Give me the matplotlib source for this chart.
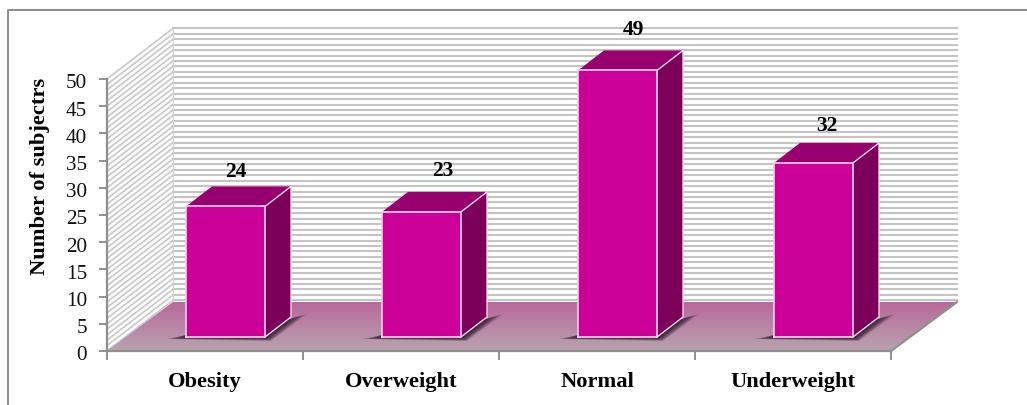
import numpy as np
import matplotlib
matplotlib.use("Agg")
import matplotlib.pyplot as plt
from matplotlib.patches import Polygon
from matplotlib.colors import LinearSegmentedColormap

categories = ["Obesity", "Overweight", "Normal", "Underweight"]
values = [24, 23, 49, 32]
y_ticks = [0, 5, 10, 15, 20, 25, 30, 35, 40, 45, 50]

# chart geometry, x in category widths and y in value units
X_UNIT = 196.0
Y_UNIT = 5.44
DEPTH_X = 66 / X_UNIT
DEPTH_Y = 49 / Y_UNIT
BAR_W = 0.403
BAR_LIFT = 14 / Y_UNIT
BAR_SHIFT = 20.5 / X_UNIT
SIDE_X = 26 / X_UNIT
SIDE_Y = 20 / Y_UNIT

# nudges for the value labels, in pixels from the top back edge of each bar
LABEL_DX = [10, 21, 16, 13]
LABEL_DY = [14, 21, 20, 17]

plt.rcParams["font.family"] = ["Liberation Serif", "DejaVu Serif"]

W, H = 1027, 405
fig = plt.figure(figsize=(W / 100, H / 100), dpi=100)
ax = fig.add_axes([0, 0, 1, 1])
ax.set_xlim(-107 / X_UNIT, (W - 107) / X_UNIT)
ax.set_ylim((351 - H) / Y_UNIT, 351 / Y_UNIT)
ax.axis("off")

n = len(categories)

# outer frame: top and left only
ax.plot([-99 / X_UNIT, -99 / X_UNIT, (W - 107) / X_UNIT],
        [(351 - H) / Y_UNIT, 341 / Y_UNIT, 341 / Y_UNIT],
        color="#8c8c8c", lw=1.4, zorder=1)

# walls
for v in range(0, 51):
    ax.plot([0, DEPTH_X], [v, v + DEPTH_Y + 0.3], color="#c8c8c8", lw=1.2, zorder=2)
    ax.plot([DEPTH_X, n + DEPTH_X], [v + DEPTH_Y + 0.3, v + DEPTH_Y + 0.3],
            color="#c4c4c4", lw=1.5, zorder=2)
ax.plot([DEPTH_X, DEPTH_X], [DEPTH_Y, 50.3 + DEPTH_Y], color="#d4d4d4", lw=0.8, zorder=2)

# floor with vertical gradient
floor_cmap = LinearSegmentedColormap.from_list("floor", ["#b8a2b0", "#b9689a"])
floor = Polygon([(0, 0), (n, 0), (n + DEPTH_X, DEPTH_Y), (DEPTH_X, DEPTH_Y)],
                closed=True, fc="none", ec="none", transform=ax.transData)
ax.add_patch(floor)
im = ax.imshow(np.linspace(0, 1, 64).reshape(-1, 1), cmap=floor_cmap, aspect="auto",
               extent=(0, n + DEPTH_X, 0, DEPTH_Y), origin="lower", zorder=3)
im.set_clip_path(floor)
ax.set_xlim(-107 / X_UNIT, (W - 107) / X_UNIT)
ax.set_ylim((351 - H) / Y_UNIT, 351 / Y_UNIT)

# front and right floor edges
ax.plot([0, n, n + DEPTH_X], [0, 0, DEPTH_Y], color="#8f8f8f", lw=1.6, zorder=4)
ax.plot([0, 0], [0, 50], color="#8f8f8f", lw=1.6, zorder=4)

# axis ticks
for v in y_ticks:
    ax.plot([-7 / X_UNIT, 0], [v, v], color="#8f8f8f", lw=1.4, zorder=4)
    ax.text(-20 / X_UNIT, v - 5 / Y_UNIT, str(v), ha="right", va="center", fontsize=15.2,
            color="#111111", zorder=6)
for i in range(n + 1):
    ax.plot([i, i], [0, -8 / Y_UNIT], color="#8f8f8f", lw=1.4, zorder=4)

for i, (name, val) in enumerate(zip(categories, values)):
    left = i + 0.5 + BAR_SHIFT - BAR_W / 2
    right = left + BAR_W
    base = BAR_LIFT
    top = base + val

    # soft shadow on the floor
    for k in range(10):
        g = k / 9
        ax.add_patch(Polygon(
            [(left - (20 - 17 * g) / X_UNIT, base - (2 - g) / Y_UNIT),
             (right + (6 - 4 * g) / X_UNIT, base - (4 - 3 * g) / Y_UNIT),
             (right + SIDE_X + (16 - 14 * g) / X_UNIT, base + SIDE_Y + (3 - 3 * g) / Y_UNIT),
             (right + SIDE_X, base + SIDE_Y - 2 / Y_UNIT),
             (left, base + 2 / Y_UNIT)],
            closed=True, fc="#1e1420", ec="none", alpha=0.14, zorder=4.5))

    # bar faces
    ax.add_patch(Polygon([(left, top), (right, top), (right + SIDE_X, top + SIDE_Y), (left + SIDE_X, top + SIDE_Y)],
                         closed=True, fc="#99006f", ec="none", zorder=5))
    ax.add_patch(Polygon([(right, base), (right + SIDE_X, base + SIDE_Y), (right + SIDE_X, top + SIDE_Y), (right, top)],
                         closed=True, fc="#7c005a", ec="none", zorder=5))
    ax.add_patch(Polygon([(left, base), (right, base), (right, top), (left, top)],
                         closed=True, fc="#cc0099", ec="none", zorder=5))

    # pale highlight along the visible edges
    edge = "#f0d4e8"
    ax.plot([left, left, right, right, left], [base, top, top, base, base], color=edge, lw=1.2, zorder=5.5)
    ax.plot([right, right + SIDE_X, right + SIDE_X, right], [top, top + SIDE_Y, base + SIDE_Y, base],
            color=edge, lw=1.0, zorder=5.5)

    ax.text(i + 0.5 + BAR_SHIFT + LABEL_DX[i] / X_UNIT, top + SIDE_Y + LABEL_DY[i] / Y_UNIT, str(val),
            ha="center", va="center", fontsize=15.5, fontweight="bold", color="black", zorder=6)
    ax.text(i + 0.5, -36 / Y_UNIT, name, ha="center", va="baseline",
            fontsize=16.2, fontweight="bold", color="black", zorder=6)

ax.text(-67 / X_UNIT, 32, "Number of subjectrs", rotation=90, ha="center", va="center",
        fontsize=16.2, fontweight="bold", color="black", zorder=6)

fig.savefig("out.png", dpi=100)
